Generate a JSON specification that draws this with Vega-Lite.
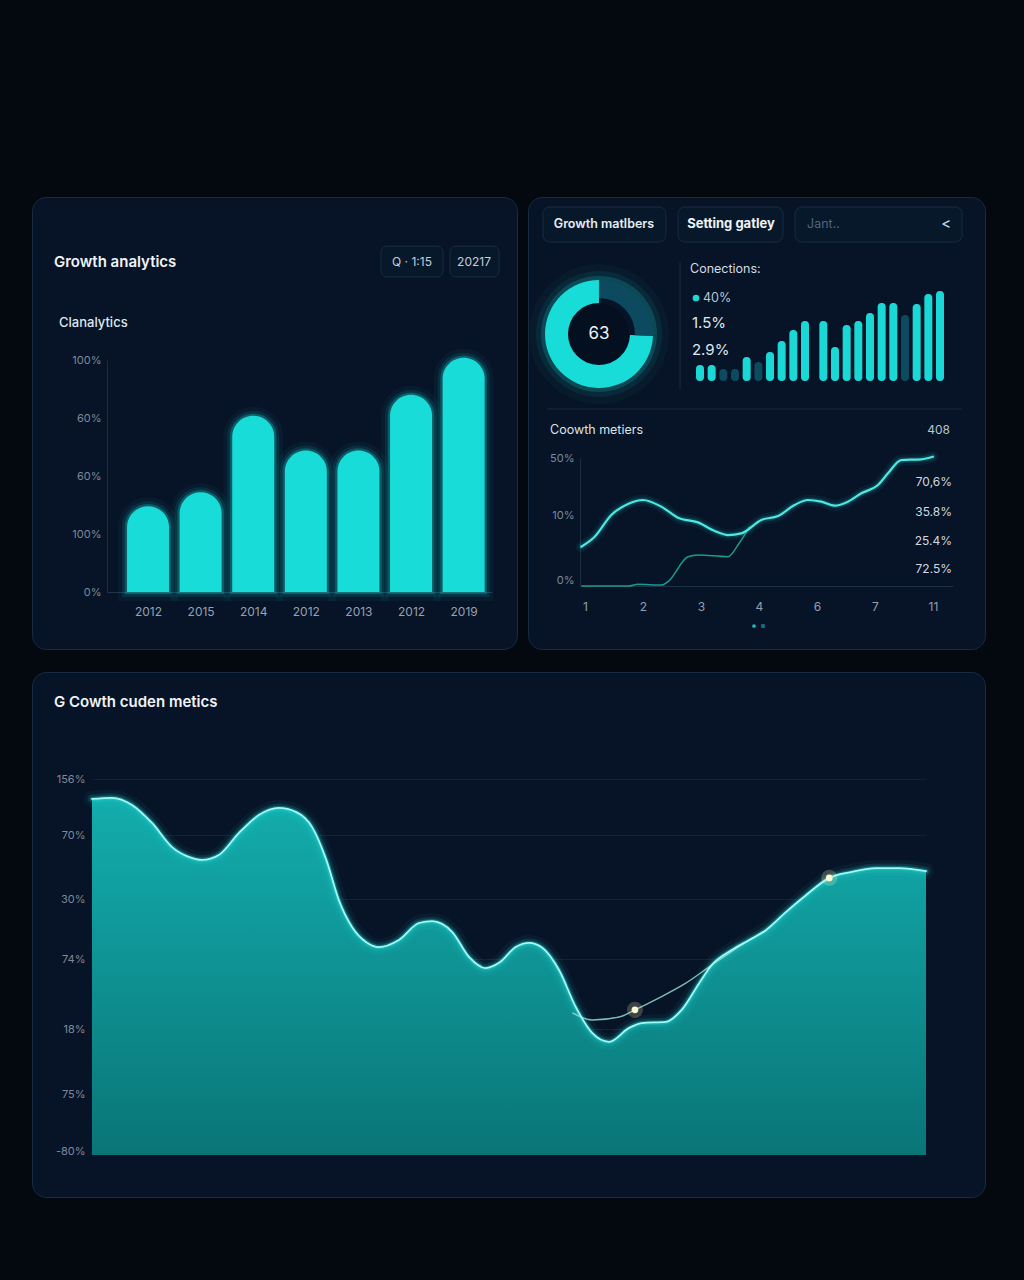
{
"$schema": "https://vega.github.io/schema/vega-lite/v6.json",
"background": "#04080f",
"padding": {"left": 31, "top": 196, "right": 40, "bottom": 84},
"datasets": {
 "barsA": [{"year":"2012","i":1,"v":37},{"year":"2015","i":2,"v":43},{"year":"2014","i":3,"v":76},{"year":"2012","i":4,"v":61},{"year":"2013","i":5,"v":61},{"year":"2012","i":6,"v":85},{"year":"2019","i":7,"v":101}],
 "miniB": [{"slot":1,"h":16,"tone":"on"},{"slot":2,"h":16,"tone":"on"},{"slot":3,"h":12,"tone":"off"},{"slot":4,"h":12,"tone":"off"},{"slot":5,"h":24,"tone":"on"},{"slot":6,"h":19,"tone":"off"},{"slot":7,"h":29,"tone":"on"},{"slot":8,"h":40,"tone":"on"},{"slot":9,"h":51,"tone":"on"},{"slot":10,"h":60,"tone":"on"},{"slot":11.57,"h":60,"tone":"on"},{"slot":12.57,"h":34,"tone":"on"},{"slot":13.57,"h":56,"tone":"on"},{"slot":14.57,"h":60,"tone":"on"},{"slot":15.57,"h":68,"tone":"on"},{"slot":16.57,"h":78,"tone":"on"},{"slot":17.57,"h":78,"tone":"on"},{"slot":18.57,"h":66,"tone":"off"},{"slot":19.57,"h":77,"tone":"on"},{"slot":20.57,"h":87,"tone":"on"},{"slot":21.57,"h":90,"tone":"on"}],
 "donutB": [{"part":"done","ord":1,"share":25.5},{"part":"rest","ord":2,"share":74.5}],
 "lineB1": [{"t":0.936,"val":30.7},{"t":1.167,"val":38.5},{"t":1.454,"val":55.5},{"t":1.741,"val":64.1},{"t":2.0,"val":67.2},{"t":2.316,"val":62.0},{"t":2.603,"val":53.4},{"t":2.948,"val":49.7},{"t":3.236,"val":43.0},{"t":3.466,"val":39.8},{"t":3.695,"val":41.1},{"t":4.04,"val":51.6},{"t":4.328,"val":54.7},{"t":4.615,"val":63.3},{"t":4.845,"val":67.2},{"t":5.075,"val":65.9},{"t":5.305,"val":62.8},{"t":5.534,"val":65.9},{"t":5.764,"val":72.4},{"t":6.052,"val":78.9},{"t":6.224,"val":88.0},{"t":6.453,"val":98.4},{"t":6.798,"val":99.0},{"t":7.0,"val":101.0}],
 "lineB2": [{"t":0.936,"val":0},{"t":1.741,"val":0},{"t":1.914,"val":1.3},{"t":2.316,"val":0.8},{"t":2.431,"val":3.4},{"t":2.776,"val":22.9},{"t":2.948,"val":24.2},{"t":3.466,"val":22.9},{"t":3.638,"val":32.0},{"t":3.839,"val":46.3}],
 "sideB": [{"label":"70,6%","val":81.3},{"label":"35.8%","val":57.8},{"label":"25.4%","val":35.2},{"label":"72.5%","val":13.3}],
 "areaC": [{"x":0,"y":94.7},{"x":2.4,"y":95.0},{"x":4.8,"y":93.1},{"x":7.2,"y":88.3},{"x":9.6,"y":81.9},{"x":11.6,"y":79.3},{"x":13.2,"y":78.5},{"x":15.2,"y":79.8},{"x":17.6,"y":85.6},{"x":20.0,"y":90.4},{"x":22.4,"y":92.3},{"x":24.5,"y":91.2},{"x":26.4,"y":87.2},{"x":28.1,"y":78.5},{"x":29.6,"y":67.8},{"x":31.2,"y":60.6},{"x":32.9,"y":56.6},{"x":34.4,"y":55.3},{"x":36.8,"y":57.2},{"x":39.2,"y":61.7},{"x":40.8,"y":62.2},{"x":43.2,"y":59.3},{"x":45.2,"y":52.7},{"x":47.2,"y":49.7},{"x":48.8,"y":51.1},{"x":50.8,"y":55.3},{"x":52.4,"y":56.4},{"x":54.0,"y":55.1},{"x":56.0,"y":49.2},{"x":58.0,"y":39.4},{"x":60.0,"y":32.4},{"x":62.0,"y":30.1},{"x":64.4,"y":33.8},{"x":65.9,"y":35.1},{"x":68.8,"y":35.4},{"x":70.7,"y":38.6},{"x":72.8,"y":45.7},{"x":74.3,"y":50.5},{"x":76.7,"y":54.5},{"x":78.8,"y":57.2},{"x":80.8,"y":59.8},{"x":83.2,"y":64.6},{"x":85.6,"y":69.1},{"x":88.4,"y":73.7},{"x":91.1,"y":75.3},{"x":94.0,"y":76.3},{"x":96.8,"y":76.3},{"x":100,"y":75.5}],
 "lineC2": [{"x":57.6,"y":37.8},{"x":60.0,"y":35.9},{"x":63.2,"y":36.7},{"x":65.1,"y":38.6},{"x":68.0,"y":41.8},{"x":71.2,"y":45.7},{"x":74.3,"y":50.5},{"x":76.4,"y":53.7},{"x":78.4,"y":56.6},{"x":80.8,"y":59.6}],
 "dotsC": [{"x":65.1,"y":38.6},{"x":88.4,"y":73.7}]
},
"spacing": 21,
"vconcat": [
 {"hconcat": [
  {
   "width": 485, "height": 452,
   "view": {"fill": "#071326", "stroke": "#182b42", "strokeWidth": 1, "cornerRadius": 14},
   "resolve": {"scale": {"x": "independent", "y": "independent"}},
   "layer": [
    {"data": {"name": "barsA"},
     "mark": {"type": "bar", "width": 42, "cornerRadiusTopLeft": 21, "cornerRadiusTopRight": 21, "fill": "#19dcd8", "fillOpacity": 0, "stroke": "#19dcd8", "strokeWidth": 18, "strokeOpacity": 0.05},
     "encoding": {"x": {"field": "i", "type": "quantitative", "scale": {"domain": [0.315, 7.444], "range": [75, 460], "nice": false, "zero": false}, "axis": null},
                  "y": {"field": "v", "type": "quantitative", "scale": {"domain": [0, 100], "range": [395, 163], "nice": false, "zero": false}, "axis": null},
                  "y2": {"datum": 0}}},
    {"data": {"name": "barsA"},
     "mark": {"type": "bar", "width": 42, "cornerRadiusTopLeft": 21, "cornerRadiusTopRight": 21, "fill": "#19dcd8", "fillOpacity": 0, "stroke": "#19dcd8", "strokeWidth": 10, "strokeOpacity": 0.1},
     "encoding": {"x": {"field": "i", "type": "quantitative", "scale": {"domain": [0.315, 7.444], "range": [75, 460], "nice": false, "zero": false}, "axis": null},
                  "y": {"field": "v", "type": "quantitative", "scale": {"domain": [0, 100], "range": [395, 163], "nice": false, "zero": false}, "axis": null},
                  "y2": {"datum": 0}}},
    {"data": {"name": "barsA"},
     "mark": {"type": "bar", "width": 42, "cornerRadiusTopLeft": 21, "cornerRadiusTopRight": 21, "fill": "#19dcd8", "fillOpacity": 0, "stroke": "#19dcd8", "strokeWidth": 4.5, "strokeOpacity": 0.25},
     "encoding": {"x": {"field": "i", "type": "quantitative", "scale": {"domain": [0.315, 7.444], "range": [75, 460], "nice": false, "zero": false}, "axis": null},
                  "y": {"field": "v", "type": "quantitative", "scale": {"domain": [0, 100], "range": [395, 163], "nice": false, "zero": false}, "axis": null},
                  "y2": {"datum": 0}}},
    {"data": {"name": "barsA"},
     "mark": {"type": "bar", "width": 42, "cornerRadiusTopLeft": 21, "cornerRadiusTopRight": 21, "color": "#17dcd8"},
     "encoding": {"x": {"field": "i", "type": "quantitative", "scale": {"domain": [0.315, 7.444], "range": [75, 460], "nice": false, "zero": false},
                        "axis": {"orient": "bottom", "offset": -57, "values": [1,2,3,4,5,6,7], "labelExpr": "['2012','2015','2014','2012','2013','2012','2019'][datum.value-1]", "title": null, "grid": false, "ticks": false, "tickSize": 0, "domain": true, "domainColor": "#22344b", "labelPadding": 19, "labelBaseline": "middle", "labelColor": "#95a2b2", "labelFont": "Inter", "labelFontSize": 12, "labelOverlap": false}},
                  "y": {"field": "v", "type": "quantitative", "scale": {"domain": [0, 100], "range": [395, 163], "nice": false, "zero": false},
                        "axis": {"orient": "left", "offset": -75, "values": [0,25,50,75,100], "labelExpr": "['0%','100%','60%','60%','100%'][datum.value/25]", "title": null, "grid": false, "ticks": false, "tickSize": 0, "domain": true, "domainColor": "#1c2d42", "labelPadding": 6, "labelColor": "#7d8a9b", "labelFont": "Inter", "labelFontSize": 11, "labelOverlap": false}},
                  "y2": {"datum": 0}}},
    {"data": {"values": [{}]},
     "mark": {"type": "text", "text": "Growth analytics", "align": "left", "baseline": "middle", "font": "Inter", "fontSize": 15, "fontWeight": 600, "color": "#f0f4f8"},
     "encoding": {"x": {"datum": -0.667, "type": "quantitative", "scale": {"domain": [0.315, 7.444], "range": [75, 460], "nice": false, "zero": false}, "axis": null},
                  "y": {"datum": 142.2, "type": "quantitative", "scale": {"domain": [0, 100], "range": [395, 163], "nice": false, "zero": false}, "axis": null}}},
    {"data": {"values": [{}]},
     "mark": {"type": "text", "text": "Clanalytics", "align": "left", "baseline": "middle", "font": "Inter", "fontSize": 13, "fontWeight": 500, "color": "#dfe7ee"},
     "encoding": {"x": {"datum": -0.574, "type": "quantitative", "scale": {"domain": [0.315, 7.444], "range": [75, 460], "nice": false, "zero": false}, "axis": null},
                  "y": {"datum": 115.9, "type": "quantitative", "scale": {"domain": [0, 100], "range": [395, 163], "nice": false, "zero": false}, "axis": null}}},
    {"data": {"values": [{}]},
     "mark": {"type": "rect", "cornerRadius": 6, "fill": "#08182b", "stroke": "#1b2d44", "strokeWidth": 1},
     "encoding": {"x": {"datum": 5.389, "type": "quantitative", "scale": {"domain": [0.315, 7.444], "range": [75, 460], "nice": false, "zero": false}, "axis": null},
                  "x2": {"datum": 6.537},
                  "y": {"datum": 149.1, "type": "quantitative", "scale": {"domain": [0, 100], "range": [395, 163], "nice": false, "zero": false}, "axis": null},
                  "y2": {"datum": 135.8}}},
    {"data": {"values": [{}]},
     "mark": {"type": "rect", "cornerRadius": 6, "fill": "#08182b", "stroke": "#1b2d44", "strokeWidth": 1},
     "encoding": {"x": {"datum": 6.667, "type": "quantitative", "scale": {"domain": [0.315, 7.444], "range": [75, 460], "nice": false, "zero": false}, "axis": null},
                  "x2": {"datum": 7.574},
                  "y": {"datum": 149.1, "type": "quantitative", "scale": {"domain": [0, 100], "range": [395, 163], "nice": false, "zero": false}, "axis": null},
                  "y2": {"datum": 135.8}}},
    {"data": {"values": [{}]},
     "mark": {"type": "text", "text": "Q · 1:15", "align": "center", "baseline": "middle", "font": "Inter", "fontSize": 12, "color": "#c3ceda"},
     "encoding": {"x": {"datum": 5.963, "type": "quantitative", "scale": {"domain": [0.315, 7.444], "range": [75, 460], "nice": false, "zero": false}, "axis": null},
                  "y": {"datum": 142.2, "type": "quantitative", "scale": {"domain": [0, 100], "range": [395, 163], "nice": false, "zero": false}, "axis": null}}},
    {"data": {"values": [{}]},
     "mark": {"type": "text", "text": "20217", "align": "center", "baseline": "middle", "font": "Inter", "fontSize": 12, "color": "#c3ceda"},
     "encoding": {"x": {"datum": 7.111, "type": "quantitative", "scale": {"domain": [0.315, 7.444], "range": [75, 460], "nice": false, "zero": false}, "axis": null},
                  "y": {"datum": 142.2, "type": "quantitative", "scale": {"domain": [0, 100], "range": [395, 163], "nice": false, "zero": false}, "axis": null}}}
   ]
  },
  {
   "width": 457, "height": 452,
   "view": {"fill": "#071326", "stroke": "#182b42", "strokeWidth": 1, "cornerRadius": 14},
   "resolve": {"scale": {"x": "independent", "y": "independent"}},
   "layer": [
    {"data": {"values": [{}]},
     "mark": {"type": "rect", "cornerRadius": 7, "fill": "#08182b", "stroke": "#1a2c42", "strokeWidth": 1},
     "encoding": {"x": {"datum": -11.51, "type": "quantitative", "scale": {"domain": [1, 21.57], "range": [167, 417], "nice": false, "zero": false}, "axis": null},
                  "x2": {"datum": -1.39},
                  "y": {"datum": 174, "type": "quantitative", "scale": {"domain": [0, 100], "range": [184, 84], "nice": false, "zero": false}, "axis": null},
                  "y2": {"datum": 139}}},
    {"data": {"values": [{}]},
     "mark": {"type": "rect", "cornerRadius": 7, "fill": "#08182b", "stroke": "#1a2c42", "strokeWidth": 1},
     "encoding": {"x": {"datum": -0.40, "type": "quantitative", "scale": {"domain": [1, 21.57], "range": [167, 417], "nice": false, "zero": false}, "axis": null},
                  "x2": {"datum": 8.24},
                  "y": {"datum": 174, "type": "quantitative", "scale": {"domain": [0, 100], "range": [184, 84], "nice": false, "zero": false}, "axis": null},
                  "y2": {"datum": 139}}},
    {"data": {"values": [{}]},
     "mark": {"type": "rect", "cornerRadius": 7, "fill": "#08182b", "stroke": "#1a2c42", "strokeWidth": 1},
     "encoding": {"x": {"datum": 9.23, "type": "quantitative", "scale": {"domain": [1, 21.57], "range": [167, 417], "nice": false, "zero": false}, "axis": null},
                  "x2": {"datum": 22.98},
                  "y": {"datum": 174, "type": "quantitative", "scale": {"domain": [0, 100], "range": [184, 84], "nice": false, "zero": false}, "axis": null},
                  "y2": {"datum": 139}}},
    {"data": {"values": [{}]},
     "mark": {"type": "text", "text": "Growth matlbers", "align": "center", "baseline": "middle", "font": "Inter", "fontSize": 12.5, "fontWeight": 600, "color": "#e6edf3"},
     "encoding": {"x": {"datum": -6.49, "type": "quantitative", "scale": {"domain": [1, 21.57], "range": [167, 417], "nice": false, "zero": false}, "axis": null},
                  "y": {"datum": 157, "type": "quantitative", "scale": {"domain": [0, 100], "range": [184, 84], "nice": false, "zero": false}, "axis": null}}},
    {"data": {"values": [{}]},
     "mark": {"type": "text", "text": "Setting gatley", "align": "center", "baseline": "middle", "font": "Inter", "fontSize": 13, "fontWeight": 700, "color": "#f0f4f8"},
     "encoding": {"x": {"datum": 3.96, "type": "quantitative", "scale": {"domain": [1, 21.57], "range": [167, 417], "nice": false, "zero": false}, "axis": null},
                  "y": {"datum": 157, "type": "quantitative", "scale": {"domain": [0, 100], "range": [184, 84], "nice": false, "zero": false}, "axis": null}}},
    {"data": {"values": [{}]},
     "mark": {"type": "text", "text": "Jant..", "align": "left", "baseline": "middle", "font": "Inter", "fontSize": 12.5, "color": "#48677f"},
     "encoding": {"x": {"datum": 10.22, "type": "quantitative", "scale": {"domain": [1, 21.57], "range": [167, 417], "nice": false, "zero": false}, "axis": null},
                  "y": {"datum": 157, "type": "quantitative", "scale": {"domain": [0, 100], "range": [184, 84], "nice": false, "zero": false}, "axis": null}}},
    {"data": {"values": [{}]},
     "mark": {"type": "text", "text": "<", "align": "center", "baseline": "middle", "font": "Inter", "fontSize": 15, "color": "#d0dae4"},
     "encoding": {"x": {"datum": 21.66, "type": "quantitative", "scale": {"domain": [1, 21.57], "range": [167, 417], "nice": false, "zero": false}, "axis": null},
                  "y": {"datum": 157, "type": "quantitative", "scale": {"domain": [0, 100], "range": [184, 84], "nice": false, "zero": false}, "axis": null}}},
    {"data": {"values": [{}]},
     "mark": {"type": "rule", "color": "#1a2b40", "strokeWidth": 1},
     "encoding": {"x": {"datum": -0.23, "type": "quantitative", "scale": {"domain": [1, 21.57], "range": [167, 417], "nice": false, "zero": false}, "axis": null},
                  "y": {"datum": 119, "type": "quantitative", "scale": {"domain": [0, 100], "range": [184, 84], "nice": false, "zero": false}, "axis": null},
                  "y2": {"datum": -9}}},
    {"data": {"values": [{}]},
     "mark": {"type": "rule", "color": "#1a2b40", "strokeWidth": 1},
     "encoding": {"x": {"datum": -11.18, "type": "quantitative", "scale": {"domain": [1, 21.57], "range": [167, 417], "nice": false, "zero": false}, "axis": null},
                  "x2": {"datum": 22.98},
                  "y": {"datum": -28, "type": "quantitative", "scale": {"domain": [0, 100], "range": [184, 84], "nice": false, "zero": false}, "axis": null}}},
    {"data": {"values": [{}]},
     "mark": {"type": "text", "text": "Conections:", "align": "left", "baseline": "middle", "font": "Inter", "fontSize": 12.5, "color": "#d3dce6"},
     "encoding": {"x": {"datum": 0.59, "type": "quantitative", "scale": {"domain": [1, 21.57], "range": [167, 417], "nice": false, "zero": false}, "axis": null},
                  "y": {"datum": 112, "type": "quantitative", "scale": {"domain": [0, 100], "range": [184, 84], "nice": false, "zero": false}, "axis": null}}},
    {"data": {"values": [{}]},
     "mark": {"type": "point", "filled": true, "size": 45, "color": "#19d8d5", "opacity": 1},
     "encoding": {"x": {"datum": 1.08, "type": "quantitative", "scale": {"domain": [1, 21.57], "range": [167, 417], "nice": false, "zero": false}, "axis": null},
                  "y": {"datum": 83, "type": "quantitative", "scale": {"domain": [0, 100], "range": [184, 84], "nice": false, "zero": false}, "axis": null}}},
    {"data": {"values": [{}]},
     "mark": {"type": "text", "text": "40%", "align": "left", "baseline": "middle", "font": "Inter", "fontSize": 12.5, "color": "#b8c5d2"},
     "encoding": {"x": {"datum": 1.66, "type": "quantitative", "scale": {"domain": [1, 21.57], "range": [167, 417], "nice": false, "zero": false}, "axis": null},
                  "y": {"datum": 83, "type": "quantitative", "scale": {"domain": [0, 100], "range": [184, 84], "nice": false, "zero": false}, "axis": null}}},
    {"data": {"values": [{}]},
     "mark": {"type": "text", "text": "1.5%", "align": "left", "baseline": "middle", "font": "Inter", "fontSize": 15, "color": "#dfe7ee"},
     "encoding": {"x": {"datum": 0.75, "type": "quantitative", "scale": {"domain": [1, 21.57], "range": [167, 417], "nice": false, "zero": false}, "axis": null},
                  "y": {"datum": 58, "type": "quantitative", "scale": {"domain": [0, 100], "range": [184, 84], "nice": false, "zero": false}, "axis": null}}},
    {"data": {"values": [{}]},
     "mark": {"type": "text", "text": "2.9%", "align": "left", "baseline": "middle", "font": "Inter", "fontSize": 15, "color": "#dfe7ee"},
     "encoding": {"x": {"datum": 0.75, "type": "quantitative", "scale": {"domain": [1, 21.57], "range": [167, 417], "nice": false, "zero": false}, "axis": null},
                  "y": {"datum": 31, "type": "quantitative", "scale": {"domain": [0, 100], "range": [184, 84], "nice": false, "zero": false}, "axis": null}}},
    {"data": {"name": "miniB"},
     "mark": {"type": "bar", "width": 8, "cornerRadius": 3.5},
     "encoding": {"x": {"field": "slot", "type": "quantitative", "scale": {"domain": [1, 21.57], "range": [167, 417], "nice": false, "zero": false}, "axis": null},
                  "y": {"field": "h", "type": "quantitative", "scale": {"domain": [0, 100], "range": [184, 84], "nice": false, "zero": false}, "axis": null},
                  "y2": {"datum": 0},
                  "color": {"condition": {"test": "datum.tone == 'on'", "value": "#19d8d5"}, "value": "#0c4a5f"}}},
    {"data": {"name": "donutB"},
     "mark": {"type": "arc", "innerRadius": 53, "outerRadius": 70, "color": "#19dcd8", "opacity": 0.04},
     "encoding": {"theta": {"field": "share", "type": "quantitative", "stack": true},
                  "order": {"field": "ord"},
                  "x": {"datum": -6.9, "type": "quantitative", "scale": {"domain": [1, 21.57], "range": [167, 417], "nice": false, "zero": false}, "axis": null},
                  "y": {"datum": 47, "type": "quantitative", "scale": {"domain": [0, 100], "range": [184, 84], "nice": false, "zero": false}, "axis": null}}},
    {"data": {"name": "donutB"},
     "mark": {"type": "arc", "innerRadius": 53, "outerRadius": 63, "color": "#19dcd8", "opacity": 0.08},
     "encoding": {"theta": {"field": "share", "type": "quantitative", "stack": true},
                  "order": {"field": "ord"},
                  "x": {"datum": -6.9, "type": "quantitative", "scale": {"domain": [1, 21.57], "range": [167, 417], "nice": false, "zero": false}, "axis": null},
                  "y": {"datum": 47, "type": "quantitative", "scale": {"domain": [0, 100], "range": [184, 84], "nice": false, "zero": false}, "axis": null}}},
    {"data": {"name": "donutB"},
     "mark": {"type": "arc", "innerRadius": 53, "outerRadius": 58, "color": "#19dcd8", "opacity": 0.18},
     "encoding": {"theta": {"field": "share", "type": "quantitative", "stack": true},
                  "order": {"field": "ord"},
                  "x": {"datum": -6.9, "type": "quantitative", "scale": {"domain": [1, 21.57], "range": [167, 417], "nice": false, "zero": false}, "axis": null},
                  "y": {"datum": 47, "type": "quantitative", "scale": {"domain": [0, 100], "range": [184, 84], "nice": false, "zero": false}, "axis": null}}},
    {"data": {"name": "donutB"},
     "mark": {"type": "arc", "innerRadius": 31, "outerRadius": 54},
     "encoding": {"theta": {"field": "share", "type": "quantitative", "stack": true},
                  "order": {"field": "ord"},
                  "color": {"condition": {"test": "datum.part == 'rest'", "value": "#17dcd8"}, "value": "transparent"},
                  "x": {"datum": -6.9, "type": "quantitative", "scale": {"domain": [1, 21.57], "range": [167, 417], "nice": false, "zero": false}, "axis": null},
                  "y": {"datum": 47, "type": "quantitative", "scale": {"domain": [0, 100], "range": [184, 84], "nice": false, "zero": false}, "axis": null}}},
    {"data": {"name": "donutB"},
     "mark": {"type": "arc", "innerRadius": 36, "outerRadius": 54},
     "encoding": {"theta": {"field": "share", "type": "quantitative", "stack": true},
                  "order": {"field": "ord"},
                  "color": {"condition": {"test": "datum.part == 'done'", "value": "#0d4a60"}, "value": "transparent"},
                  "x": {"datum": -6.9, "type": "quantitative", "scale": {"domain": [1, 21.57], "range": [167, 417], "nice": false, "zero": false}, "axis": null},
                  "y": {"datum": 47, "type": "quantitative", "scale": {"domain": [0, 100], "range": [184, 84], "nice": false, "zero": false}, "axis": null}}},
    {"data": {"name": "donutB"},
     "mark": {"type": "arc", "innerRadius": 0, "outerRadius": 30, "color": "#041020"},
     "encoding": {"theta": {"field": "share", "type": "quantitative", "stack": true},
                  "order": {"field": "ord"},
                  "x": {"datum": -6.9, "type": "quantitative", "scale": {"domain": [1, 21.57], "range": [167, 417], "nice": false, "zero": false}, "axis": null},
                  "y": {"datum": 47, "type": "quantitative", "scale": {"domain": [0, 100], "range": [184, 84], "nice": false, "zero": false}, "axis": null}}},
    {"data": {"values": [{}]},
     "mark": {"type": "text", "text": "63", "align": "center", "baseline": "middle", "font": "Inter", "fontSize": 17, "color": "#eef3f7"},
     "encoding": {"x": {"datum": -6.9, "type": "quantitative", "scale": {"domain": [1, 21.57], "range": [167, 417], "nice": false, "zero": false}, "axis": null},
                  "y": {"datum": 47, "type": "quantitative", "scale": {"domain": [0, 100], "range": [184, 84], "nice": false, "zero": false}, "axis": null}}},
    {"data": {"name": "lineB1"},
     "mark": {"type": "line", "interpolate": "monotone", "color": "#19dcd8", "strokeWidth": 11, "opacity": 0.07, "strokeCap": "round"},
     "encoding": {"x": {"field": "t", "type": "quantitative", "scale": {"domain": [0.914, 7.345], "range": [52, 425], "nice": false, "zero": false}, "axis": null},
                  "y": {"field": "val", "type": "quantitative", "scale": {"domain": [0, 100], "range": [389, 261], "nice": false, "zero": false}, "axis": null}}},
    {"data": {"name": "lineB1"},
     "mark": {"type": "line", "interpolate": "monotone", "color": "#19dcd8", "strokeWidth": 5.5, "opacity": 0.16, "strokeCap": "round"},
     "encoding": {"x": {"field": "t", "type": "quantitative", "scale": {"domain": [0.914, 7.345], "range": [52, 425], "nice": false, "zero": false}, "axis": null},
                  "y": {"field": "val", "type": "quantitative", "scale": {"domain": [0, 100], "range": [389, 261], "nice": false, "zero": false}, "axis": null}}},
    {"data": {"name": "lineB2"},
     "mark": {"type": "line", "interpolate": "monotone", "color": "#1a9c90", "strokeWidth": 1.5},
     "encoding": {"x": {"field": "t", "type": "quantitative", "scale": {"domain": [0.914, 7.345], "range": [52, 425], "nice": false, "zero": false}, "axis": null},
                  "y": {"field": "val", "type": "quantitative", "scale": {"domain": [0, 100], "range": [389, 261], "nice": false, "zero": false}, "axis": null}}},
    {"data": {"name": "lineB1"},
     "mark": {"type": "line", "interpolate": "monotone", "color": "#4fe8e2", "strokeWidth": 2.2, "strokeCap": "round"},
     "encoding": {"x": {"field": "t", "type": "quantitative", "scale": {"domain": [0.914, 7.345], "range": [52, 425], "nice": false, "zero": false},
                        "axis": {"orient": "bottom", "offset": -63, "values": [1,2,3,4,5,6,7], "labelExpr": "['1','2','3','4','6','7','11'][datum.value-1]", "title": null, "grid": false, "ticks": false, "tickSize": 0, "domain": true, "domainColor": "#1f3147", "labelPadding": 20, "labelBaseline": "middle", "labelColor": "#93a0b0", "labelFont": "Inter", "labelFontSize": 12, "labelOverlap": false}},
                  "y": {"field": "val", "type": "quantitative", "scale": {"domain": [0, 100], "range": [389, 261], "nice": false, "zero": false},
                        "axis": {"orient": "left", "offset": -52, "values": [4, 55, 100], "labelExpr": "datum.value == 100 ? '50%' : datum.value == 55 ? '10%' : '0%'", "title": null, "grid": false, "ticks": false, "tickSize": 0, "domain": true, "domainColor": "#1c2d42", "labelPadding": 6, "labelColor": "#7d8a9b", "labelFont": "Inter", "labelFontSize": 11, "labelOverlap": false}}}},
    {"data": {"values": [{}]},
     "mark": {"type": "text", "text": "Coowth metiers", "align": "left", "baseline": "middle", "font": "Inter", "fontSize": 12.5, "color": "#dbe3eb"},
     "encoding": {"x": {"datum": 0.397, "type": "quantitative", "scale": {"domain": [0.914, 7.345], "range": [52, 425], "nice": false, "zero": false}, "axis": null},
                  "y": {"datum": 121.9, "type": "quantitative", "scale": {"domain": [0, 100], "range": [389, 261], "nice": false, "zero": false}, "axis": null}}},
    {"data": {"values": [{}]},
     "mark": {"type": "text", "text": "408", "align": "right", "baseline": "middle", "font": "Inter", "fontSize": 12, "color": "#b9c5d1"},
     "encoding": {"x": {"datum": 7.293, "type": "quantitative", "scale": {"domain": [0.914, 7.345], "range": [52, 425], "nice": false, "zero": false}, "axis": null},
                  "y": {"datum": 121.9, "type": "quantitative", "scale": {"domain": [0, 100], "range": [389, 261], "nice": false, "zero": false}, "axis": null}}},
    {"data": {"name": "sideB"},
     "mark": {"type": "text", "align": "right", "baseline": "middle", "font": "Inter", "fontSize": 12, "color": "#cfd9e3"},
     "encoding": {"text": {"field": "label"},
                  "x": {"datum": 7.328, "type": "quantitative", "scale": {"domain": [0.914, 7.345], "range": [52, 425], "nice": false, "zero": false}, "axis": null},
                  "y": {"field": "val", "type": "quantitative", "scale": {"domain": [0, 100], "range": [389, 261], "nice": false, "zero": false}, "axis": null}}},
    {"data": {"values": [{}]},
     "mark": {"type": "point", "filled": true, "size": 14, "color": "#20b8c4", "opacity": 1},
     "encoding": {"x": {"datum": 3.914, "type": "quantitative", "scale": {"domain": [0.914, 7.345], "range": [52, 425], "nice": false, "zero": false}, "axis": null},
                  "y": {"datum": -31.25, "type": "quantitative", "scale": {"domain": [0, 100], "range": [389, 261], "nice": false, "zero": false}, "axis": null}}},
    {"data": {"values": [{}]},
     "mark": {"type": "point", "filled": true, "size": 14, "shape": "square", "color": "#1d6d86", "opacity": 1},
     "encoding": {"x": {"datum": 4.069, "type": "quantitative", "scale": {"domain": [0.914, 7.345], "range": [52, 425], "nice": false, "zero": false}, "axis": null},
                  "y": {"datum": -31.25, "type": "quantitative", "scale": {"domain": [0, 100], "range": [389, 261], "nice": false, "zero": false}, "axis": null}}}
   ]
  }
 ], "spacing": 9},
 {
  "width": 953, "height": 525,
  "view": {"fill": "#071326", "stroke": "#182b42", "strokeWidth": 1, "cornerRadius": 14},
  "resolve": {"scale": {"x": "independent", "y": "independent"}},
  "layer": [
   {"data": {"name": "areaC"},
    "mark": {"type": "area", "interpolate": "monotone", "fill": {"x1": 0, "y1": 0, "x2": 0, "y2": 1, "gradient": "linear", "stops": [{"offset": 0, "color": "#13adad"}, {"offset": 1, "color": "#0a7577"}]}},
    "encoding": {"x": {"field": "x", "type": "quantitative", "scale": {"domain": [0, 100], "range": [60, 894], "nice": false, "zero": false}, "axis": null},
                 "y": {"field": "y", "type": "quantitative", "scale": {"domain": [0, 100], "range": [483, 107], "nice": false, "zero": false},
                       "axis": {"orient": "left", "offset": -60, "values": [100, 85, 68, 52, 33.5, 16, 1], "labelExpr": "datum.value == 100 ? '156%' : datum.value == 85 ? '70%' : datum.value == 68 ? '30%' : datum.value == 52 ? '74%' : datum.value == 33.5 ? '18%' : datum.value == 16 ? '75%' : '-80%'", "title": null, "grid": true, "gridColor": "#112238", "gridWidth": 1, "ticks": false, "tickSize": 0, "domain": false, "labelPadding": 7, "labelColor": "#7d8a9b", "labelFont": "Inter", "labelFontSize": 11, "labelOverlap": false}},
                 "y2": {"datum": 0}}},
   {"data": {"name": "areaC"},
    "mark": {"type": "line", "interpolate": "monotone", "color": "#22e4e0", "strokeWidth": 16, "opacity": 0.06, "strokeCap": "round"},
    "encoding": {"x": {"field": "x", "type": "quantitative", "scale": {"domain": [0, 100], "range": [60, 894], "nice": false, "zero": false}, "axis": null},
                 "y": {"field": "y", "type": "quantitative", "scale": {"domain": [0, 100], "range": [483, 107], "nice": false, "zero": false}, "axis": null}}},
   {"data": {"name": "areaC"},
    "mark": {"type": "line", "interpolate": "monotone", "color": "#22e4e0", "strokeWidth": 9, "opacity": 0.12, "strokeCap": "round"},
    "encoding": {"x": {"field": "x", "type": "quantitative", "scale": {"domain": [0, 100], "range": [60, 894], "nice": false, "zero": false}, "axis": null},
                 "y": {"field": "y", "type": "quantitative", "scale": {"domain": [0, 100], "range": [483, 107], "nice": false, "zero": false}, "axis": null}}},
   {"data": {"name": "areaC"},
    "mark": {"type": "line", "interpolate": "monotone", "color": "#2ee6e2", "strokeWidth": 4.5, "opacity": 0.3, "strokeCap": "round"},
    "encoding": {"x": {"field": "x", "type": "quantitative", "scale": {"domain": [0, 100], "range": [60, 894], "nice": false, "zero": false}, "axis": null},
                 "y": {"field": "y", "type": "quantitative", "scale": {"domain": [0, 100], "range": [483, 107], "nice": false, "zero": false}, "axis": null}}},
   {"data": {"name": "lineC2"},
    "mark": {"type": "line", "interpolate": "monotone", "color": "#8fdccf", "strokeWidth": 1.4, "opacity": 0.85},
    "encoding": {"x": {"field": "x", "type": "quantitative", "scale": {"domain": [0, 100], "range": [60, 894], "nice": false, "zero": false}, "axis": null},
                 "y": {"field": "y", "type": "quantitative", "scale": {"domain": [0, 100], "range": [483, 107], "nice": false, "zero": false}, "axis": null}}},
   {"data": {"name": "areaC"},
    "mark": {"type": "line", "interpolate": "monotone", "color": "#a2faf6", "strokeWidth": 1.8, "strokeCap": "round"},
    "encoding": {"x": {"field": "x", "type": "quantitative", "scale": {"domain": [0, 100], "range": [60, 894], "nice": false, "zero": false}, "axis": null},
                 "y": {"field": "y", "type": "quantitative", "scale": {"domain": [0, 100], "range": [483, 107], "nice": false, "zero": false}, "axis": null}}},
   {"data": {"name": "dotsC"},
    "mark": {"type": "point", "filled": true, "size": 260, "color": "#fff2b8", "opacity": 0.22},
    "encoding": {"x": {"field": "x", "type": "quantitative", "scale": {"domain": [0, 100], "range": [60, 894], "nice": false, "zero": false}, "axis": null},
                 "y": {"field": "y", "type": "quantitative", "scale": {"domain": [0, 100], "range": [483, 107], "nice": false, "zero": false}, "axis": null}}},
   {"data": {"name": "dotsC"},
    "mark": {"type": "point", "filled": true, "size": 45, "color": "#fff6d6", "opacity": 1},
    "encoding": {"x": {"field": "x", "type": "quantitative", "scale": {"domain": [0, 100], "range": [60, 894], "nice": false, "zero": false}, "axis": null},
                 "y": {"field": "y", "type": "quantitative", "scale": {"domain": [0, 100], "range": [483, 107], "nice": false, "zero": false}, "axis": null}}},
   {"data": {"values": [{}]},
    "mark": {"type": "text", "text": "G Cowth cuden metics", "align": "left", "baseline": "middle", "font": "Inter", "fontSize": 15, "fontWeight": 600, "color": "#f0f4f8"},
    "encoding": {"x": {"datum": -4.56, "type": "quantitative", "scale": {"domain": [0, 100], "range": [60, 894], "nice": false, "zero": false}, "axis": null},
                 "y": {"datum": 120.5, "type": "quantitative", "scale": {"domain": [0, 100], "range": [483, 107], "nice": false, "zero": false}, "axis": null}}}
  ]
 }
]
}
